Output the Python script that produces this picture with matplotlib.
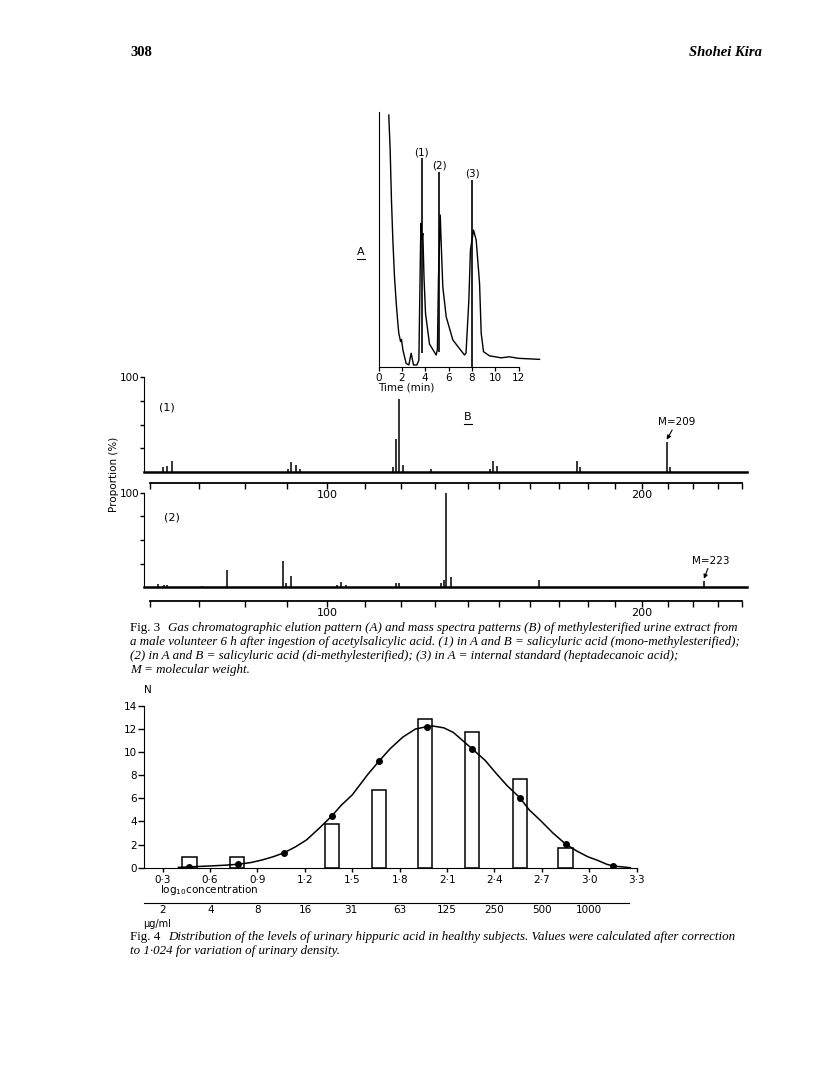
import numpy as np
import matplotlib.pyplot as plt
from matplotlib.lines import Line2D

# Fig. 3A gas chromatogram: time (min) vs recorder response (% of frame height)
gc_time = [0.88, 1.0, 1.11, 1.23, 1.37, 1.52, 1.66, 1.74, 1.89, 1.97, 2.09, 2.37, 2.6, 2.8, 3.0,
           3.29, 3.46, 3.53, 3.63, 3.71, 3.8, 3.9, 4.03, 4.37, 4.94, 5.05, 5.14, 5.29, 5.4, 5.51,
           5.8, 6.37, 7.37, 7.5, 7.74, 7.88, 8.14, 8.37, 8.66, 8.8, 9.0, 9.5, 10.5, 11.2, 12.0, 13.8]
gc_resp = [98.8, 85, 65.5, 49.8, 35.4, 25, 17.1, 13.2, 10, 10.8, 6.7, 1.4, 0.8, 5.4, 0.8,
           0.8, 2.7, 25, 56.3, 50, 52.4, 35, 21, 9, 4.7, 7, 35, 59.6, 45, 31.5,
           19.7, 10.6, 4.7, 5.5, 26, 45.9, 53.7, 49.8, 32.8, 13.2, 6, 4.4, 3.6, 4.0, 3.4, 3.0]
gc_peak_time = [3.71, 5.2, 8.03]
gc_peak_top = [81.8, 76.6, 73.3]
gc_peak_foot = [5.4, 6.0, 0.0]
gc_peak_labels = ['(1)', '(2)', '(3)']

# Fig. 3B mass spectra: m/z vs proportion (%)
ms1_mz = [62.6, 63.4, 64.4, 90.3, 91.0, 92.1, 93.2, 118.0, 118.6, 119.6, 120.8, 128.8,
          147.2, 148.1, 149.2, 176.3, 177.3, 209.5, 210.8]
ms1_int = [5.0, 6.3, 11.9, 3.2, 10.5, 7.4, 3.2, 4.9, 34.4, 76.5, 7.0, 3.5,
           3.5, 11.6, 6.7, 11.9, 4.9, 31.9, 4.9]
ms2_mz = [61.5, 62.8, 63.4, 70.6, 76.1, 88.9, 89.8, 91.0, 102.5, 103.7, 104.9, 118.6, 119.6,
          131.8, 132.8, 133.5, 134.8, 163.3, 224.2]
ms2_int = [3.8, 2.4, 2.1, 1.5, 18.3, 27.8, 4.2, 12.3, 2.4, 5.9, 2.0, 4.9, 4.9,
           4.2, 7.7, 100, 10.5, 7.7, 6.7]
mz_ticks = list(range(60, 250, 10))

# Fig. 4 histogram of log10 concentration and fitted normal curve
hist_log = [0.47, 0.77, 1.37, 1.67, 1.96, 2.26, 2.56, 2.85]
hist_n = [0.9, 0.9, 3.8, 6.7, 12.9, 11.7, 7.7, 1.7]
fit_log = [0.47, 0.78, 1.07, 1.37, 1.67, 1.97, 2.26, 2.56, 2.85, 3.15]
fit_n = [0.09, 0.3, 1.3, 4.47, 9.23, 12.2, 10.27, 6.06, 2.05, 0.15]
curve_log = [0.40, 0.47, 0.55, 0.63, 0.70, 0.78, 0.86, 0.93, 1.00, 1.07, 1.14, 1.21, 1.29, 1.37,
             1.43, 1.50, 1.60, 1.67, 1.74, 1.82, 1.90, 1.97, 2.01, 2.08, 2.14, 2.26, 2.34, 2.41,
             2.48, 2.56, 2.62, 2.69, 2.77, 2.85, 2.92, 2.99, 3.05, 3.11, 3.15, 3.20, 3.26]
curve_n = [0.03, 0.07, 0.12, 0.17, 0.22, 0.30, 0.45, 0.67, 0.95, 1.30, 1.8, 2.4, 3.4, 4.47,
           5.4, 6.3, 8.1, 9.23, 10.3, 11.3, 12.0, 12.2, 12.26, 12.1, 11.7, 10.27, 9.3, 8.17,
           7.1, 6.06, 5.0, 4.1, 3.0, 2.05, 1.45, 0.95, 0.65, 0.3, 0.15, 0.08, 0.0]
log_ticks = [0.3, 0.6, 0.9, 1.2, 1.5, 1.8, 2.1, 2.4, 2.7, 3.0, 3.3]
ug_ticks = [2, 4, 8, 16, 31, 63, 125, 250, 500, 1000]

W, H = 816, 1072
SERIF = 'Liberation Serif'
fig = plt.figure(figsize=(W / 100, H / 100), dpi=100)


def box(l, t, r, b):
    return [l / W, 1 - b / H, (r - l) / W, (b - t) / H]


def ftext(x, y, s, **kw):
    kw.setdefault('ha', 'center')
    kw.setdefault('va', 'center')
    fig.text(x / W, 1 - y / H, s, **kw)


def underline(x0, x1, y):
    fig.add_artist(Line2D([x0 / W, x1 / W], [1 - y / H] * 2, color='k', lw=0.8))


# page header
ftext(130, 53, '308', ha='left', family=SERIF, weight='bold', size=10.5)
ftext(762, 53, 'Shohei Kira', ha='right', family=SERIF, weight='bold', style='italic', size=10.5)

# ---- Fig 3A chromatogram
ax = fig.add_axes(box(378.5, 112, 378.5 + 13.9 * 11.67, 367))
ax.plot(gc_time, gc_resp, color='k', lw=1.0, clip_on=False)
ax.vlines(gc_peak_time, gc_peak_foot, gc_peak_top, color='k', lw=1.2)
for t, top, s in zip(gc_peak_time, gc_peak_top, gc_peak_labels):
    ax.text(t, top + 0.5, s, ha='center', va='bottom', fontsize=7.5)
ax.set_xlim(0, 13.9)
ax.set_ylim(0, 100)
ax.spines[['top', 'right']].set_visible(False)
ax.spines['bottom'].set_bounds(0, 12)
ax.set_xticks(range(0, 13, 2))
ax.set_yticks([])
ax.tick_params(axis='x', direction='out', length=3, width=0.9, labelsize=7.5, pad=1)
ax.patch.set_alpha(0)
ftext(378, 387, 'Time (min)', ha='left', size=7.5)
ftext(361, 252, 'A', size=8)
underline(357, 365, 259)


# ---- Fig 3B spectra, m/z axis of the magnetic scan is compressed at high mass
def fwd(m):
    return np.power(np.clip(m, 1e-6, None), 0.45)


def inv(v):
    return np.power(np.clip(v, 1e-6, None), 1 / 0.45)


def spectrum(top, base, mz, inten, gap):
    a = fig.add_axes(box(144, top, 747, base))
    a.set_xscale('function', functions=(fwd, inv))
    a.vlines(mz, 0, inten, color='k', lw=1.1)
    a.axhline(0, color='k', lw=1.8, clip_on=False)
    a.set_xlim(58.8, 241.9)
    a.set_ylim(0, 100)
    a.spines[['top', 'right']].set_visible(False)
    a.spines['bottom'].set_position(('outward', gap))
    a.spines['bottom'].set_bounds(60, 240)
    a.spines['bottom'].set_linewidth(1.3)
    a.set_xticks(mz_ticks)
    a.set_xticklabels(['100' if m == 100 else '200' if m == 200 else '' for m in mz_ticks])
    a.xaxis.set_minor_locator(plt.NullLocator())
    a.set_yticks([25, 50, 75, 100])
    a.set_yticklabels(['', '', '', '100'])
    a.tick_params(axis='x', direction='out', length=4, width=1, labelsize=8, pad=1)
    a.tick_params(axis='y', direction='out', length=3, width=1, labelsize=7.5, pad=0.5)
    a.patch.set_alpha(0)
    return a


ax1 = spectrum(377, 472, ms1_mz, ms1_int, 8)
ax2 = spectrum(492.7, 587.3, ms2_mz, ms2_int, 10)
ax1.annotate('M=209', xy=(209.5, 34), xytext=(7, 9), textcoords='offset points',
             ha='center', va='bottom', fontsize=7.5,
             arrowprops=dict(arrowstyle='-|>', color='k', lw=0.8, mutation_scale=6,
                             shrinkA=0, shrinkB=0))
ax2.annotate('M=223', xy=(224.2, 9), xytext=(5, 9.5), textcoords='offset points',
             ha='center', va='bottom', fontsize=7.5,
             arrowprops=dict(arrowstyle='-|>', color='k', lw=0.8, mutation_scale=6,
                             shrinkA=0, shrinkB=0))
ftext(167, 407, '(1)', size=8)
ftext(172, 517, '(2)', size=8)
ftext(468, 417, 'B', size=8)
underline(464, 472, 424)
ftext(114, 474, 'Proportion (%)', rotation=90, size=7.5)

# Fig 3 caption
cap = dict(family=SERIF, size=9.4, ha='left')
ftext(130, 628, 'Fig. 3', **cap)
ftext(168, 628, 'Gas chromatographic elution pattern (A) and mass spectra patterns (B) of '
      'methylesterified urine extract from', style='italic', **cap)
ftext(130, 642, 'a male volunteer 6 h after ingestion of acetylsalicylic acid. (1) in A and B = '
      'salicyluric acid (mono-methylesterified);', style='italic', **cap)
ftext(130, 656, '(2) in A and B = salicyluric acid (di-methylesterified); (3) in A = internal '
      'standard (heptadecanoic acid);', style='italic', **cap)
ftext(130, 670, 'M = molecular weight.', style='italic', **cap)

# ---- Fig 4 histogram
axh = fig.add_axes(box(144.3, 705.9, 636.7, 867.7))
axh.bar(hist_log, hist_n, width=0.09, facecolor='white', edgecolor='k', lw=1.1, zorder=2)
axh.plot(curve_log, curve_n, color='k', lw=1.1, zorder=3)
axh.plot(fit_log, fit_n, 'o', color='k', ms=4, zorder=4)
axh.set_xlim(0.184, 3.3)
axh.set_ylim(0, 14)
axh.spines[['top', 'right']].set_visible(False)
axh.set_xticks(log_ticks)
axh.set_xticklabels([f'{v:.1f}'.replace('.', '\u00b7') for v in log_ticks])
axh.set_yticks(range(0, 15, 2))
axh.tick_params(axis='x', direction='out', length=3, width=1, labelsize=7.5, pad=2)
axh.tick_params(axis='y', direction='out', length=4, width=1, labelsize=7.5, pad=1)
axh.patch.set_alpha(0)
ftext(148, 690, 'N', size=7.5)
ftext(160, 890, r'log$_{\mathregular{10}}$concentration', ha='left', size=7.5)

axu = fig.add_axes(box(144.3, 903.3, 636.7, 903.4))
axu.set_xlim(0.184, 3.3)
axu.set_yticks([])
axu.spines[['top', 'left', 'right']].set_visible(False)
axu.spines['bottom'].set_bounds(0.184, 3.25)
axu.set_xticks(np.log10(ug_ticks))
axu.set_xticklabels([str(u) for u in ug_ticks])
axu.tick_params(axis='x', direction='out', length=0, labelsize=7.5, pad=1)
axu.patch.set_alpha(0)
ftext(143, 924, '\u00b5g/ml', ha='left', size=7)

# Fig 4 caption
ftext(130, 937, 'Fig. 4', **cap)
ftext(168, 937, 'Distribution of the levels of urinary hippuric acid in healthy subjects. '
      'Values were calculated after correction', style='italic', **cap)
ftext(130, 951, 'to 1\u00b7024 for variation of urinary density.', style='italic', **cap)

fig.savefig('out.png', dpi=100)
